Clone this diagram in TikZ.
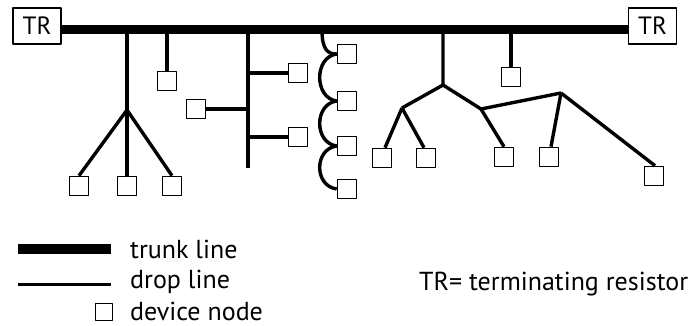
\documentclass[tikz,border=0pt]{standalone}
\usepackage{fontspec}
\setmainfont{PT Sans}
\begin{document}
\begin{tikzpicture}[x=1pt,y=-1pt,line join=round]
  \tikzstyle{trunk}=[line width=9pt]
  \tikzstyle{drop}=[line width=3.4pt]
  \tikzstyle{dev}=[draw,line width=1.6pt,minimum size=19pt,inner sep=0pt]
  \tikzstyle{tr}=[draw,line width=1.6pt,minimum width=48pt,minimum height=36pt,inner sep=0pt,font=\fontsize{25}{30}\selectfont]
  \tikzstyle{lbl}=[anchor=base west,inner sep=0pt,font=\fontsize{26}{30}\selectfont]
  \useasboundingbox (0,0) rectangle (699,326);
  % terminating resistors and trunk
  \node[tr] (trl) at (37,26) {TR};
  \node[tr] (trr) at (652.5,26) {TR};
  \draw[trunk] ([yshift=-4pt]trl.east) -- ([yshift=-4pt]trr.west);
  % fan drop
  \coordinate (t1) at (127,30);
  \coordinate (f1) at (127,110);
  \node[dev] (d1a) at (79,186) {};
  \node[dev] (d1b) at (127,186) {};
  \node[dev] (d1c) at (172,186) {};
  \draw[drop] (t1) -- (f1);
  \draw[drop] (f1) -- (d1a.north);
  \draw[drop] (f1) -- (d1b.north);
  \draw[drop] (f1) -- (d1c.north);
  % single drop
  \coordinate (t2) at (167,30);
  \node[dev] (d2) at (167,81) {};
  \draw[drop] (t2) -- (d2.north);
  % branch drop
  \coordinate (t3) at (248,30);
  \coordinate (e3) at (248,168);
  \node[dev] (d3a) at (298,73) {};
  \node[dev] (d3b) at (196,109) {};
  \node[dev] (d3c) at (298,137) {};
  \draw[drop] (t3) -- (e3);
  \draw[drop] (t3 |- d3a) -- (d3a.west);
  \draw[drop] (t3 |- d3b) -- (d3b.east);
  \draw[drop] (t3 |- d3c) -- (d3c.west);
  % daisy chain
  \coordinate (t4) at (322,30);
  \node[dev] (c1) at (347,54) {};
  \node[dev] (c2) at (347,101) {};
  \node[dev] (c3) at (347,146) {};
  \node[dev] (c4) at (347,189) {};
  \draw[drop] (t4) .. controls (322,50) and (328,54) .. (c1.west);
  \draw[drop] (c1.west) .. controls (314,57) and (314,98) .. (c2.west);
  \draw[drop] (c2.west) .. controls (314,104) and (314,143) .. (c3.west);
  \draw[drop] (c3.west) .. controls (314,149) and (314,186) .. (c4.west);
  % tree drop
  \coordinate (t5) at (443,30);
  \coordinate (f5) at (443,85);
  \coordinate (g5) at (402,108);
  \coordinate (h5) at (481,109);
  \coordinate (k5) at (561,93);
  \node[dev] (d5a) at (382,158) {};
  \node[dev] (d5b) at (426,158) {};
  \node[dev] (d5c) at (504,157) {};
  \node[dev] (d5d) at (549,157) {};
  \node[dev] (d5e) at (654,176) {};
  \draw[drop] (t5) -- (f5) -- (g5);
  \draw[drop] (f5) -- (h5) -- (k5);
  \draw[drop] (g5) -- ([xshift=3pt]d5a.north);
  \draw[drop] (g5) -- ([xshift=-2pt]d5b.north);
  \draw[drop] (h5) -- (d5c.north);
  \draw[drop] (k5) -- ([xshift=2pt]d5d.north);
  \draw[drop] (k5) -- ([xshift=1pt]d5e.north);
  % single drop
  \coordinate (t6) at (511,30);
  \node[dev] (d6) at (511,77) {};
  \draw[drop] (t6) -- (d6.north);
  % legend
  \coordinate (la) at (18,248.5);
  \coordinate (lb) at (111,248.5);
  \coordinate (lc) at (18,284);
  \coordinate (ld) at (111,284);
  \draw[line width=10pt] (la) -- (lb);
  \draw[line width=3pt] (lc) -- (ld);
  \node[dev,line width=1.2pt,minimum size=17pt] (ldev) at (104,312) {};
  \node[lbl] (ltrunk) at (130,258) {trunk line};
  \node[lbl] (ldrop) at (130,288) {drop line};
  \node[lbl] (ldevice) at (130,320) {device node};
  \node[lbl] (trnote) at (419,290) {TR= terminating resistor};
\end{tikzpicture}
\end{document}
